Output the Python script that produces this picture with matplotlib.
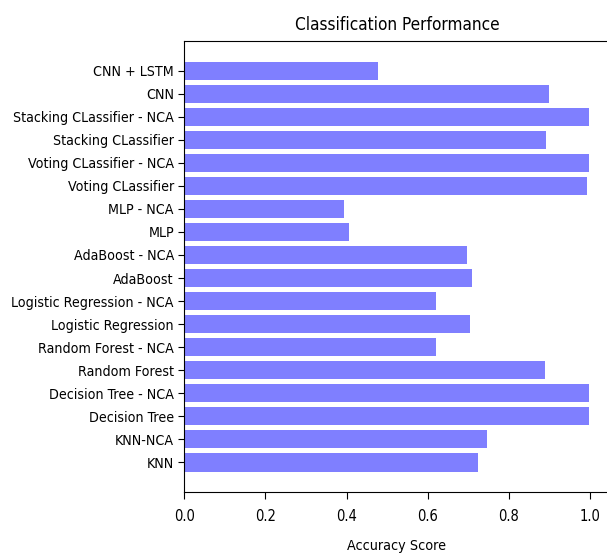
import matplotlib
matplotlib.use("Agg")
import matplotlib.pyplot as plt

plt.rcParams["font.family"] = ["DejaVu Sans"]
plt.rcParams["font.stretch"] = "condensed"

models = ["KNN", "KNN-NCA", "Decision Tree", "Decision Tree - NCA", "Random Forest",
          "Random Forest - NCA", "Logistic Regression", "Logistic Regression - NCA",
          "AdaBoost", "AdaBoost - NCA", "MLP", "MLP - NCA", "Voting CLassifier",
          "Voting CLassifier - NCA", "Stacking CLassifier", "Stacking CLassifier - NCA",
          "CNN", "CNN + LSTM"]
accuracy = [0.724, 0.747, 0.998, 0.998, 0.888, 0.621, 0.703, 0.621, 0.710, 0.696,
            0.405, 0.393, 0.993, 0.998, 0.892, 0.998, 0.899, 0.477]
x_ticks = [0.0, 0.2, 0.4, 0.6, 0.8, 1.0]

fig = plt.figure(figsize=(6.07, 5.58), dpi=100)
ax = fig.add_axes([184.3 / 607, 66 / 558, (609.6 - 184.3) / 607, (492 - 41) / 558])
ypos = list(range(len(models)))
ax.barh(ypos, accuracy, height=0.8, color="blue", alpha=0.5)
ax.set_yticks(ypos)
ax.set_yticklabels(models, fontsize=10.2)
ax.set_xticks(x_ticks)
ax.tick_params(axis="x", labelsize=10.5, pad=7.5, length=5)
ax.tick_params(axis="y", length=4)
ax.set_xlabel("Accuracy Score", fontsize=10.3)
ax.xaxis.set_label_coords(0.5, -0.105)
ax.set_title("Classification Performance", fontsize=12.3, pad=8)
fig.savefig("out.png", dpi=100)
